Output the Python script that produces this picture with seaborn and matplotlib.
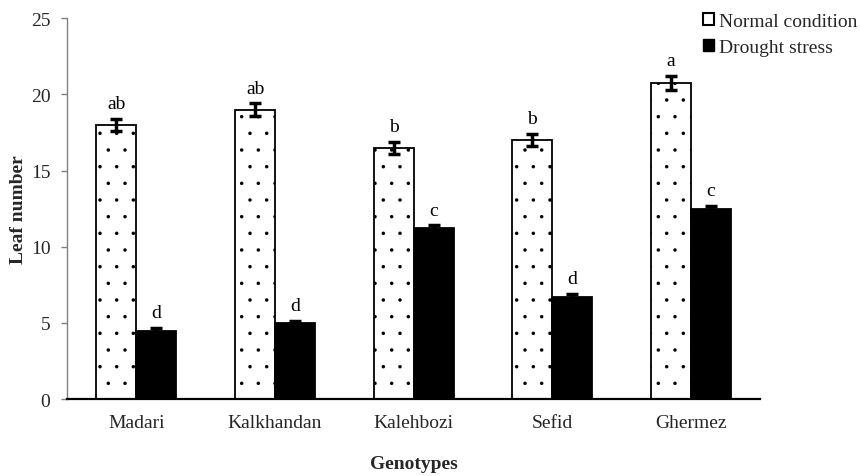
import matplotlib
matplotlib.use("Agg")
import matplotlib.pyplot as plt
import seaborn as sns
import pandas as pd
import numpy as np
from matplotlib.patches import Patch

genotypes = ["Madari", "Kalkhandan", "Kalehbozi", "Sefid", "Ghermez"]
normal = [18.0, 19.0, 16.5, 17.0, 20.75]
drought = [4.5, 5.0, 11.2, 6.7, 12.5]
normal_err = [0.4, 0.4, 0.4, 0.4, 0.45]
drought_err = [0.15, 0.15, 0.2, 0.2, 0.2]
normal_letters = ["ab", "ab", "b", "b", "a"]
drought_letters = ["d", "d", "c", "d", "c"]
series = ["Normal condition", "Drought stress"]
yticks = [0, 5, 10, 15, 20, 25]

sns.set_theme(style="white")
plt.rcParams['font.family'] = ['Liberation Serif', 'DejaVu Serif']
plt.rcParams['hatch.linewidth'] = 0.1
plt.rcParams['hatch.color'] = '#4a4a4a'

df = pd.DataFrame({
    "Genotype": genotypes * 2,
    "Condition": [series[0]] * 5 + [series[1]] * 5,
    "Value": normal + drought,
})

FS = 14
fig = plt.figure(figsize=(8.6, 4.77), dpi=100)
ax = fig.add_axes([0.078, 0.161, 0.806, 0.799])
sns.barplot(data=df, x="Genotype", y="Value", hue="Condition", order=genotypes,
            hue_order=series, palette=["white", "black"], edgecolor="black",
            linewidth=1.3, width=0.576, errorbar=None, ax=ax, legend=False)

errs = normal_err + drought_err
letters = normal_letters + drought_letters
for i, p in enumerate(ax.patches[:10]):
    if i < 5:
        p.set_hatch('.')
    x = p.get_x() + p.get_width() / 2
    h = p.get_height()
    ax.errorbar(x, h, yerr=errs[i], fmt='none', ecolor='black', elinewidth=2.5,
                capsize=4.5, capthick=2.5, zorder=5)
    ax.text(x, h + errs[i] + 0.45, letters[i], ha='center', va='bottom',
            fontsize=FS, color='black')

ax.set_ylim(0, 25)
ax.set_xlim(-0.5, 4.5)
ax.set_yticks(yticks)
ax.set_yticklabels([str(t) for t in yticks], fontsize=FS)
ax.tick_params(axis='x', labelsize=FS, length=0, pad=11)
ax.tick_params(axis='y', left=True, length=4, width=1, color='#808080', pad=8)
ax.set_xlabel("Genotypes", fontsize=FS, fontweight='bold', labelpad=17)
ax.set_ylabel("Leaf number", fontsize=FS, fontweight='bold', labelpad=3)
for s in ['top', 'right']:
    ax.spines[s].set_visible(False)
ax.spines['left'].set_color('#808080')
ax.spines['left'].set_linewidth(1)
ax.spines['bottom'].set_color('black')
ax.spines['bottom'].set_linewidth(1.6)

handles = [Patch(facecolor='white', edgecolor='black', linewidth=1.5),
           Patch(facecolor='black', edgecolor='black')]
leg = fig.legend(handles, series, loc='upper left',
                 bbox_to_anchor=(703 / 860, 1 - 14 / 477),
                 bbox_transform=fig.transFigure, borderpad=0, borderaxespad=0,
                 frameon=False, fontsize=FS, handlelength=0.55, handleheight=0.55,
                 handletextpad=0.25, labelspacing=0.45)

fig.savefig("out.png", dpi=100)
